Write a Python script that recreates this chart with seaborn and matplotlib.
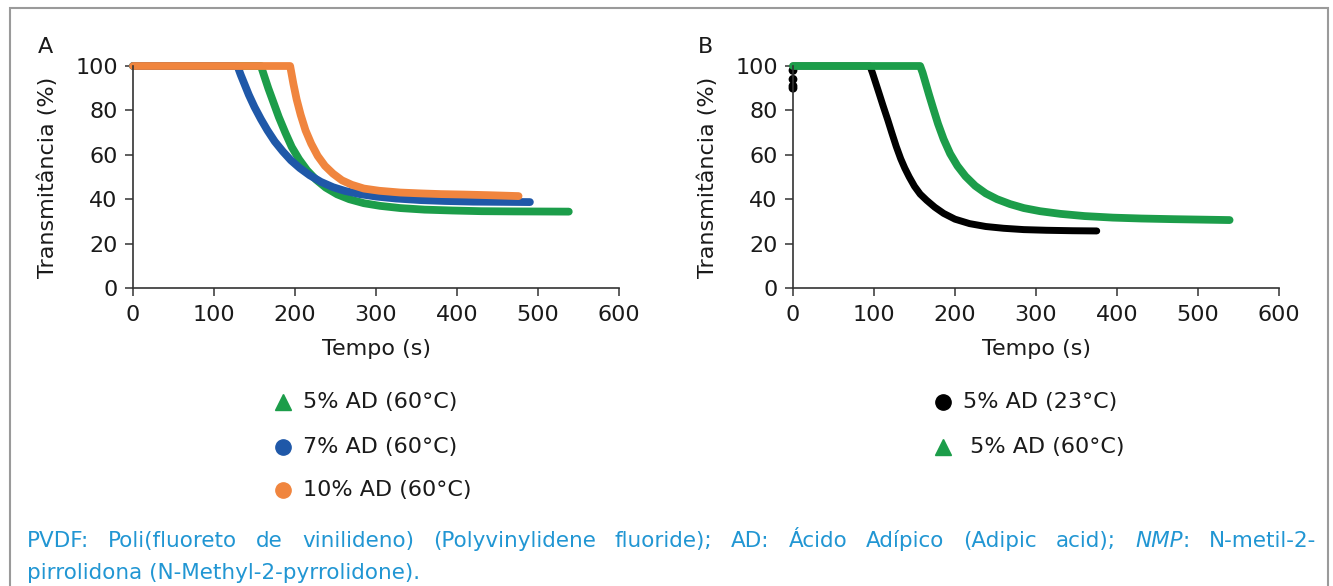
import pandas as pd
import matplotlib.pyplot as plt
import seaborn as sns
from matplotlib.patches import Rectangle
from matplotlib.lines import Line2D

# --- DỮ LIỆU ---
# Panel A
a_green_x = [0, 158, 162, 167, 173, 180, 188, 196, 205, 215, 226, 238, 252, 267, 285, 305, 330, 360, 395, 430, 470, 538]
a_green_y = [100, 100, 95.5, 90, 84, 77, 70, 63.5, 58, 53, 48.8, 45.2, 42.2, 40, 38.2, 37, 36, 35.3, 34.9, 34.6, 34.5, 34.4]
a_blue_x = [0, 129, 133, 138, 143, 150, 158, 166, 175, 185, 195, 206, 218, 232, 247, 262, 280, 300, 325, 355, 385, 420, 455, 490]
a_blue_y = [100, 100, 96, 91.5, 87, 81.5, 76, 71, 66, 61.5, 57.5, 54, 50.8, 47.8, 45.4, 43.7, 42.3, 41.2, 40.3, 39.6, 39.2, 38.9, 38.8, 38.7]
a_orange_x = [0, 194, 198, 202, 207, 213, 220, 228, 237, 247, 258, 270, 285, 304, 330, 356, 380, 408, 440, 476]
a_orange_y = [100, 100, 92, 85, 78, 71, 65, 59.5, 55, 51.5, 48.5, 46.5, 44.8, 43.8, 43, 42.6, 42.3, 42.1, 41.8, 41.4]

# Panel B
b_green_x = [0, 157, 160, 164, 168, 173, 179, 186, 194, 203, 213, 225, 238, 252, 268, 285, 305, 330, 360, 395, 430, 470, 539]
b_green_y = [100, 100, 97, 92, 87, 81, 74, 67, 60.5, 55, 50.3, 46, 42.6, 40, 37.8, 36, 34.6, 33.4, 32.4, 31.7, 31.3, 31, 30.6]
b_black_x = [0, 95, 98, 102, 106, 111, 117, 122, 127.5, 133, 138, 143.5, 150, 157, 165, 175, 186, 200, 218, 238, 260, 285, 313, 345, 375]
b_black_y = [100, 100, 97, 92.5, 88, 82.3, 75.7, 69.9, 63.7, 58.2, 54, 50, 45.8, 42.3, 39.5, 36.4, 33.6, 31, 29, 27.7, 26.9, 26.3, 26, 25.8, 25.7]
b_black_start_x = [0, 0, 0, 0]
b_black_start_y = [90, 91, 94, 98]

legend_a = ['5% AD (60°C)', '7% AD (60°C)', '10% AD (60°C)']
legend_b = ['5% AD (23°C)', ' 5% AD (60°C)']

caption_1 = [[('PVDF:', 'normal')], [('Poli(fluoreto', 'normal')], [('de', 'normal')], [('vinilideno)', 'normal')],
             [('(Polyvinylidene', 'normal')], [('fluoride);', 'normal')], [('AD:', 'normal')],
             [('Ácido', 'normal')], [('Adípico', 'normal')], [('(Adipic', 'normal')], [('acid);', 'normal')],
             [('NMP', 'italic'), (':', 'normal')], [('N-metil-2-', 'normal')]]
caption_2 = 'pirrolidona (N-Methyl-2-pyrrolidone).'

GREEN = '#1c9d4a'
BLUE = '#1f58a8'
ORANGE = '#f0853e'
BLACK = '#000000'
CAPTION = '#2196d3'
TXT = '#1a1a1a'
FS = 16

sns.set_theme(style='ticks')
plt.rcParams['font.family'] = ['DejaVu Sans']

W, H = 1333, 586
fig = plt.figure(figsize=(W / 100, H / 100), dpi=100)

# khung viền xám
fig.patches.append(Rectangle((10 / W, 1 - 640 / H), 1318 / W, 632 / H, transform=fig.transFigure,
                             fill=False, edgecolor='#9a9a9a', linewidth=1.5))

ax_a = fig.add_axes([133 / W, 1 - 288 / H, 486 / W, 222 / H])
ax_b = fig.add_axes([793 / W, 1 - 288 / H, 486 / W, 222 / H])

lw = 5.6
sns.lineplot(x=a_green_x, y=a_green_y, ax=ax_a, color=GREEN, lw=lw, clip_on=False, solid_capstyle='round')
sns.lineplot(x=a_blue_x, y=a_blue_y, ax=ax_a, color=BLUE, lw=lw, clip_on=False, solid_capstyle='round')
sns.lineplot(x=a_orange_x, y=a_orange_y, ax=ax_a, color=ORANGE, lw=lw, clip_on=False, solid_capstyle='round')

sns.lineplot(x=b_black_x, y=b_black_y, ax=ax_b, color=BLACK, lw=5, clip_on=False, solid_capstyle='round')
sns.scatterplot(x=b_black_start_x, y=b_black_start_y, ax=ax_b, color=BLACK, s=40, edgecolor='none', clip_on=False)
sns.lineplot(x=b_green_x, y=b_green_y, ax=ax_b, color=GREEN, lw=lw, clip_on=False, solid_capstyle='round')

for ax, letter in [(ax_a, 'A'), (ax_b, 'B')]:
    ax.set_xlim(0, 600)
    ax.set_ylim(0, 100)
    ax.set_xticks(range(0, 601, 100))
    ax.set_yticks(range(0, 101, 20))
    sns.despine(ax=ax)
    for s in ['left', 'bottom']:
        ax.spines[s].set_color('#333333')
        ax.spines[s].set_linewidth(1.2)
    ax.tick_params(axis='both', labelsize=FS, length=6, width=1.1, color='#333333', labelcolor=TXT)
    ax.tick_params(axis='x', pad=6)
    ax.tick_params(axis='y', pad=5)
    ax.set_xlabel('Tempo (s)', fontsize=FS, color=TXT)
    ax.set_ylabel('Transmitância (%)', fontsize=FS, color=TXT)
    ax.xaxis.set_label_coords(0.5, -0.23)
    ax.yaxis.set_label_coords(-0.155, 0.5)
    ax.text(-0.181, 1.085, letter, transform=ax.transAxes, fontsize=FS, ha='center', va='center', color=TXT)

# --- CHÚ GIẢI ---
markers_a = [('^', GREEN), ('o', BLUE), ('o', ORANGE)]
markers_b = [('o', BLACK), ('^', GREEN)]
rows_y = [402, 447, 490]
for (m, c), lab, y in zip(markers_a, legend_a, rows_y):
    fig.lines.append(Line2D([283 / W], [1 - y / H], marker=m, color=c, markersize=11, linestyle='none',
                            transform=fig.transFigure))
    fig.text(303 / W, 1 - y / H, lab, fontsize=FS, va='center', ha='left', color=TXT)
for (m, c), lab, y in zip(markers_b, legend_b, rows_y):
    fig.lines.append(Line2D([943 / W], [1 - y / H], marker=m, color=c, markersize=11, linestyle='none',
                            transform=fig.transFigure))
    fig.text(963 / W, 1 - y / H, lab, fontsize=FS, va='center', ha='left', color=TXT)

# --- CHÚ THÍCH (căn đều hai lề) ---
CFS = 15.5
x_left, x_right = 27, 1316
renderer = fig.canvas.get_renderer()
groups = []
for grp in caption_1:
    parts = []
    for txt, st in grp:
        t = fig.text(0, 1 - 547 / H, txt, fontsize=CFS, va='baseline', ha='left', color=CAPTION, style=st)
        parts.append((t, t.get_window_extent(renderer).width))
    groups.append(parts)
widths = [sum(w for _, w in parts) for parts in groups]
gap = (x_right - x_left - sum(widths)) / (len(groups) - 1)
x = x_left
for parts, gw in zip(groups, widths):
    xp = x
    for t, w in parts:
        t.set_x(xp / W)
        xp += w
    x += gw + gap
fig.text(x_left / W, 1 - 579 / H, caption_2, fontsize=CFS, va='baseline', ha='left', color=CAPTION)

fig.savefig('out.png', dpi=100)
